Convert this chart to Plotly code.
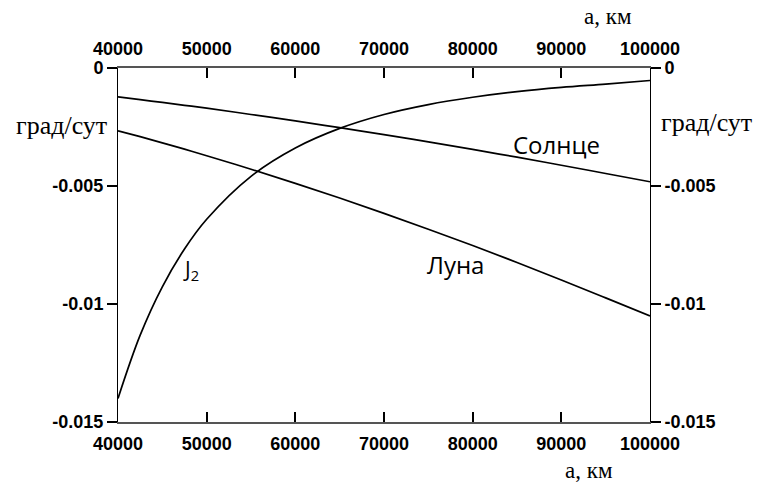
import plotly.graph_objects as go

# Semi-major axis, km
a_km = [40000, 42500, 45000, 47500, 50000, 55000, 60000, 65000, 70000,
        75000, 80000, 85000, 90000, 95000, 100000]

# Node precession rates, deg/day
j2_rate = [-0.01400, -0.01132, -0.00927, -0.00767, -0.00641, -0.00459, -0.00339,
           -0.00256, -0.00197, -0.00155, -0.00124, -0.00100, -0.00082, -0.00068, -0.00053]
sun_rate = [-0.00122, -0.00134, -0.00146, -0.00158, -0.00170, -0.00197, -0.00224,
            -0.00253, -0.00282, -0.00313, -0.00345, -0.00378, -0.00412, -0.00447, -0.00482]
moon_rate = [-0.00266, -0.00291, -0.00317, -0.00344, -0.00372, -0.00429, -0.00489,
             -0.00551, -0.00616, -0.00683, -0.00752, -0.00824, -0.00898, -0.00974, -0.01051]

x_ticks = [40000, 50000, 60000, 70000, 80000, 90000, 100000]
x_tick_text = ["40000", "50000", "60000", "70000", "80000", "90000", "100000"]
y_ticks = [0, -0.005, -0.01, -0.015]
y_tick_text = ["0", "-0.005", "-0.01", "-0.015"]

line_style = dict(color="black", width=1.7, shape="spline")

fig = go.Figure()
for series in (j2_rate, sun_rate, moon_rate):
    fig.add_trace(go.Scatter(x=a_km, y=series, mode="lines", line=line_style,
                             showlegend=False, hoverinfo="skip"))

tick_font = dict(family="Liberation Sans, Arial", size=18, color="black", weight="bold")
serif_font = dict(family="Liberation Serif, Times New Roman", size=23, color="black")
label_font = dict(family="Open Sans, Noto Sans", size=24, color="black")

x_common = dict(range=[40000, 100000], tickvals=x_ticks, ticktext=x_tick_text,
                ticks="inside", ticklen=10, tickwidth=2, tickcolor="black",
                showline=True, linecolor="#555555", linewidth=1.5,
                showgrid=False, zeroline=False, tickfont=tick_font)
y_common = dict(range=[-0.015, 0], tickvals=y_ticks, ticktext=y_tick_text,
                ticks="outside", ticklen=10, tickwidth=2, tickcolor="black",
                showline=True, linecolor="black", linewidth=1,
                showgrid=False, zeroline=False, tickfont=tick_font)

fig.update_layout(
    width=759, height=487,
    margin=dict(l=118, r=109, t=68, b=65),
    paper_bgcolor="white", plot_bgcolor="white",
    xaxis=dict(x_common, side="bottom", ticklabelstandoff=5),
    xaxis2=dict(x_common, side="top", overlaying="x", matches="x", ticklabelstandoff=4),
    yaxis=dict(y_common, side="left"),
    yaxis2=dict(y_common, side="right", overlaying="y", matches="y"),
)
# invisible trace to activate the top/right axes
fig.add_trace(go.Scatter(x=[40000], y=[0], xaxis="x2", yaxis="y2", mode="lines",
                         line=dict(width=0), showlegend=False, hoverinfo="skip"))

plot_left, plot_top = 118, 68
plot_w, plot_h = 759 - 118 - 109, 487 - 68 - 65


def place(text, px, py, font):
    """Add a text label centred at a pixel position of the figure."""
    fig.add_annotation(text=text, x=(px - plot_left) / plot_w, y=1 - (py - plot_top) / plot_h,
                       xref="paper", yref="paper", xanchor="center", yanchor="middle",
                       showarrow=False, font=font)


place("a, км", 608, 17, serif_font)
place("a, км", 589, 470, serif_font)
place("град/сут", 61, 125, dict(serif_font, size=26))
place("град/сут", 706, 123, dict(serif_font, size=26))
place("Солнце", 556, 144, label_font)
place("Луна", 455, 264, label_font)
place("J<sub>2</sub>", 191, 270, dict(label_font, size=21))

fig.write_html("out.html")
